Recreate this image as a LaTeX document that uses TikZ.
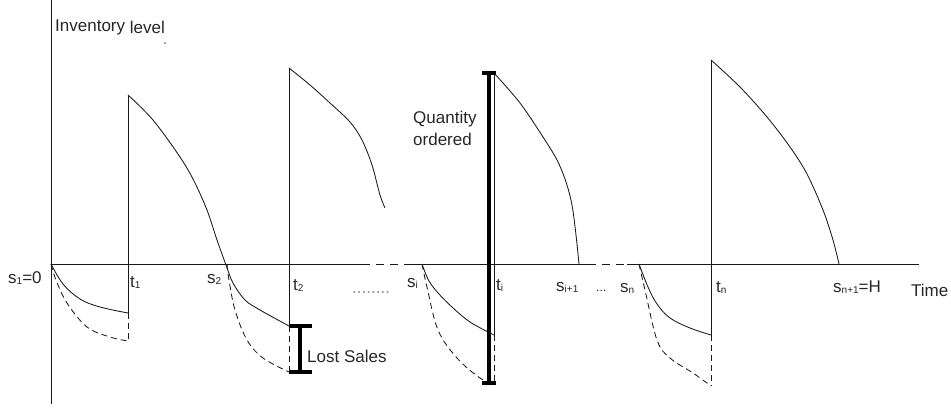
\documentclass[tikz,border=0pt]{standalone}
\usepackage{fontspec}
\setmainfont{Liberation Sans}
\newcommand\sbs[1]{\raisebox{-1.5bp}{\fontsize{10bp}{10bp}\selectfont #1}}
\begin{document}
\begin{tikzpicture}[x=1bp,y=-1bp,
  line/.style={draw=black!90,line width=0.85bp},
  dline/.style={line,dash pattern=on 6bp off 4bp},
  axdash/.style={line,dash pattern=on 8bp off 6bp},
  thick bar/.style={draw=black,line width=3.6bp},
  lbl/.style={anchor=base west,inner sep=0pt,text=black!85,font=\fontsize{17bp}{20bp}\selectfont}]
\useasboundingbox (0,0) rectangle (951,409);
% key points
\coordinate (ytop) at (51,0);
\coordinate (ybot) at (51,404);
\coordinate (s1) at (51,264);
\coordinate (g1a) at (362,264);
\coordinate (g1b) at (405,264);
\coordinate (g2a) at (588,264);
\coordinate (g2b) at (627,264);
\coordinate (xend) at (919,264);
% axes
\draw[line] (ytop) -- (ybot);
\draw[line] (s1) -- (g1a);
\draw[axdash] (g1a) -- (g1b);
\draw[line] (g1b) -- (g2a);
\draw[axdash] (g2a) -- (g2b);
\draw[line] (g2b) -- (xend);
% cycle 1
\coordinate (t1top) at (128,95);
\coordinate (t1s) at (128,313);
\coordinate (t1d) at (128,341);
\draw[line] plot[smooth,tension=0.6] coordinates {(51,264) (63,284) (80,299) (100,307) (128,313)};
\draw[dline] plot[smooth,tension=0.6] coordinates {(51,264) (56,280) (67,303) (87,327) (110,337) (128,341)};
\draw[line] (t1top) -- (t1s);
\draw[dline] (t1s) -- (t1d);
\draw[line] plot[smooth,tension=0.55] coordinates {(128,95) (153,120) (180,157) (194,181) (207,210) (217,240) (226,265) (233,283) (245,300) (260,310) (289,326)};
% cycle 2
\coordinate (t2top) at (289,68);
\coordinate (t2s) at (289,326);
\coordinate (t2d) at (289,372);
\draw[dline] plot[smooth,tension=0.6] coordinates {(227,264) (229,280) (235,310) (247,340) (263,358) (289,372)};
\draw[line] (t2top) -- (t2s);
\draw[dline] (t2s) -- (t2d);
\draw[line] plot[smooth,tension=0.55] coordinates {(289,68) (310,85) (330,103) (350,122) (362,140) (372,165) (380,195) (385,208)};
% lost sales bar
\coordinate (lsT) at (300,326);
\coordinate (lsB) at (300,372);
\draw[thick bar] (lsT) -- (lsB);
\draw[thick bar] ([xshift=-11bp]lsT) -- ([xshift=12bp]lsT);
\draw[thick bar] ([xshift=-11bp]lsB) -- ([xshift=12bp]lsB);
% cycle i
\coordinate (si) at (422,264);
\coordinate (titop) at (494,73);
\coordinate (tis) at (494,335);
\coordinate (tid) at (494,384);
\draw[line] plot[smooth,tension=0.6] coordinates {(422,264) (429,281) (439,294) (452,307) (470,322) (494,335)};
\draw[dline] plot[smooth,tension=0.6] coordinates {(422,264) (427,287) (438,330) (457,358) (480,378) (494,384)};
\draw[line] (titop) -- (tis);
\draw[dline] (tis) -- (tid);
\draw[line] plot[smooth,tension=0.55] coordinates {(494,73) (520,103) (543,137) (557,160) (566,182) (572,205) (576,235) (579,264)};
% quantity ordered bar
\coordinate (qT) at (489,73);
\coordinate (qB) at (489,383);
\draw[thick bar] (qT) -- (qB);
\draw[thick bar] ([xshift=-7bp]qT) -- ([xshift=7bp]qT);
\draw[thick bar] ([xshift=-7bp]qB) -- ([xshift=7bp]qB);
% cycle n
\coordinate (tntop) at (711,60);
\coordinate (tns) at (711,335);
\coordinate (tnd) at (711,386);
\draw[line] plot[smooth,tension=0.6] coordinates {(639,264) (648,287) (657,304) (670,318) (690,328) (711,335)};
\draw[dline] plot[smooth,tension=0.6] coordinates {(639,264) (645,290) (657,340) (670,358) (693,373) (711,386)};
\draw[line] (tntop) -- (tns);
\draw[dline] (tns) -- (tnd);
\draw[line] plot[smooth,tension=0.55] coordinates {(711,60) (740,87) (767,117) (790,147) (807,174) (823,210) (833,240) (839,264)};
% stray dot
\fill[black!70] (165,43) circle (0.9bp) coordinate (dot);
% labels
\node[lbl] (inv) at (55,31) {Inventory \raisebox{-2bp}{level}};
\node[lbl] (ls1) at (8,283) {s\sbs{1}=0};
\node[lbl] (lt1) at (130,287) {t\sbs{1}};
\node[lbl] (ls2) at (207,283) {s\sbs{2}};
\node[lbl] (lt2) at (293,290) {t\sbs{2}};
\node[lbl,text=black!45] (ldots) at (352,293) {........};
\node[lbl] (lsi) at (407,287) {s\sbs{i}};
\node[lbl] (lti) at (496,290) {t\sbs{i}};
\node[lbl] (lsi1) at (556,291) {s\sbs{i+1}};
\node[lbl,font=\fontsize{12bp}{14bp}\selectfont] (ldots2) at (596,291) {...};
\node[lbl] (lsn) at (620,292) {s\sbs{n}};
\node[lbl] (ltn) at (716,292) {t\sbs{n}};
\node[lbl] (lsn1) at (833,292) {s\sbs{n+1}=H};
\node[lbl] (ltime) at (911,296) {Time};
\node[lbl] (lost) at (307,362) {Lost Sales};
\node[lbl,align=left,anchor=north west] (qty) at (413,111) {Quantity\\[1.5bp]ordered};
\end{tikzpicture}
\end{document}
